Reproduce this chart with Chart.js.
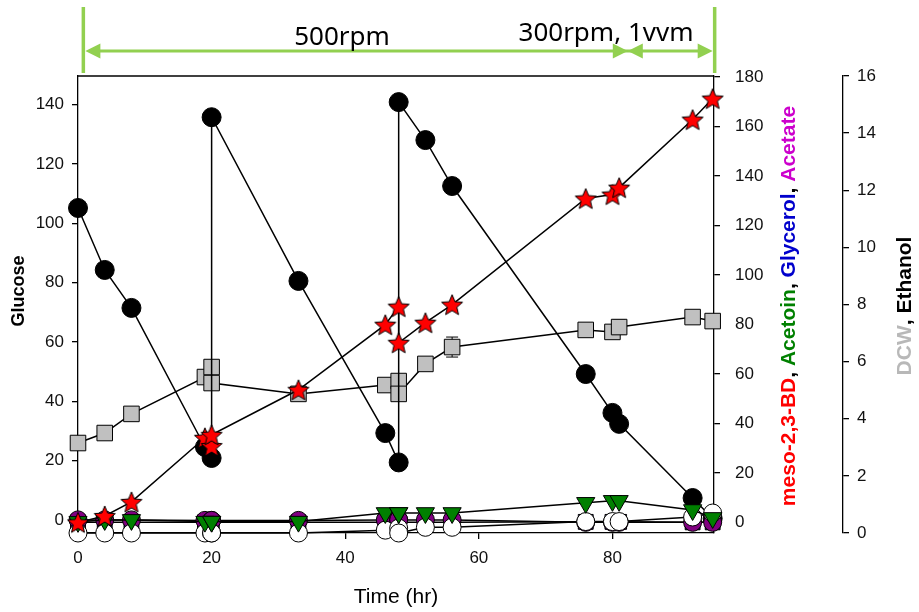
<!DOCTYPE html>
<html>
<head>
<meta charset="utf-8">
<script src="https://cdn.jsdelivr.net/npm/chart.js@4.4.1/dist/chart.umd.min.js"></script>
<style>
  html, body { margin: 0; padding: 0; background: #fff; }
  #wrap { width: 919px; height: 612px; }
</style>
</head>
<body>
<div id="wrap"><canvas id="chart" width="919" height="612"></canvas></div>
<script>
// Fed-batch fermentation time course.
// Sampling times (hr); the doubled entries at ~20 h and 48 h are the glucose feeds.
const hours = [0, 4, 8, 19, 20, 20, 33, 46, 48, 48, 52, 56, 76, 80, 81, 92, 95];

// left axis (g/L)
const glucose = [105.2, 84.3, 71.5, 24.6, 20.9, 135.8, 80.6, 29.3, 19.4, 140.9, 128.1, 112.6, 49.2, 36.1, 32.4, 7.4, 0.5];
const glucoseErr = [0, 0, 0, 0, 0, 0, 0, 0, 0, 0, 0, 2, 0, 0, 0, 0, 0];

// first right axis (g/L)
const mesoBD = [0, 2.6, 8.3, 34.2, 30.9, 35.4, 53.6, 79.9, 87.2, 72.6, 80.7, 88, 130.9, 132.5, 135.3, 162.8, 171.3];
const acetoin = [0.2, 1, 1, 0.3, 0.3, 0.3, 0.3, 3.8, 3.8, 3.8, 3.8, 3.8, 7.9, 8.7, 8.7, 5, 1.8];
const glycerol = [0, 0, 0, 0, 0, 0, 0, 0, 0, 0, 0, 0, 0.2, 0.2, 0.2, 0, 0];
const acetate = [1, 1, 1, 0.8, 0.8, 0.8, 0.8, 1, 1, 1, 1, 1, 0, 0, 0, 0, 0];

// second right axis (g/L)
const dcw = [3.15, 3.5, 4.17, 5.46, 5.81, 5.25, 4.87, 5.18, 5.32, 4.87, 5.92, 6.51, 7.11, 7.04, 7.21, 7.56, 7.42];
const dcwErr = [0, 0, 0, 0, 0, 0, 0, 0, 0, 0, 0, 0.35, 0, 0.12, 0.25, 0, 0];
const ethanol = [0, 0, 0, 0, 0, 0, 0, 0.1, 0.17, 0, 0.2, 0.2, 0.4, 0.4, 0.4, 0.56, 0.7];

// agitation / aeration phases (hr)
const phaseBounds = [0.8, 82.3, 95.3];
const phaseLabels = ['500rpm', '300rpm, 1vvm'];

const TICK_FONT = { family: 'Liberation Sans, Arial, sans-serif', size: 17 };
const TITLE_FONT = 'bold 21px "Liberation Sans", Arial, sans-serif';

function pts(ys) {
  return hours.map((h, i) => ({ x: h, y: ys[i] }));
}

// filled 5-point star marker
function makeStar(r, fill) {
  const size = Math.ceil(r * 2 + 4);
  const c = document.createElement('canvas');
  c.width = size; c.height = size;
  const g = c.getContext('2d');
  g.translate(size / 2, size / 2 + r * 0.1);
  g.beginPath();
  for (let i = 0; i < 10; i++) {
    const rr = i % 2 ? r * 0.45 : r;
    const a = -Math.PI / 2 + i * Math.PI / 5;
    g.lineTo(rr * Math.cos(a), rr * Math.sin(a));
  }
  g.closePath();
  g.fillStyle = fill;
  g.fill();
  g.lineWidth = 1;
  g.strokeStyle = '#000';
  g.stroke();
  return c;
}

function series(label, ys, axis, style, fill, radius, extra) {
  return Object.assign({
    label,
    data: pts(ys),
    yAxisID: axis,
    borderColor: '#000',
    borderWidth: 1.5,
    pointStyle: style,
    pointRadius: radius,
    pointBackgroundColor: fill,
    pointBorderColor: '#000',
    pointBorderWidth: 1,
    tension: 0,
    fill: false,
    clip: false
  }, extra || {});
}

function drawRotated(ctx, parts, cx, cy, font) {
  ctx.save();
  ctx.font = font;
  const total = parts.reduce((s, p) => s + ctx.measureText(p.text).width, 0);
  ctx.translate(cx, cy);
  ctx.rotate(-Math.PI / 2);
  ctx.textBaseline = 'middle';
  ctx.textAlign = 'left';
  let x = -total / 2;
  parts.forEach(p => {
    ctx.fillStyle = p.color;
    ctx.fillText(p.text, x, 0);
    x += ctx.measureText(p.text).width;
  });
  ctx.restore();
}

function arrowHead(ctx, tipX, y, dir) {
  ctx.beginPath();
  ctx.moveTo(tipX, y);
  ctx.lineTo(tipX - dir * 15, y - 7.5);
  ctx.lineTo(tipX - dir * 15, y + 7.5);
  ctx.closePath();
  ctx.fill();
}

const errorBars = {
  id: 'errorBars',
  beforeDatasetsDraw(chart) {
    const ctx = chart.ctx;
    ctx.save();
    ctx.strokeStyle = '#000';
    ctx.lineWidth = 1;
    chart.data.datasets.forEach(ds => {
      if (!ds.errors) return;
      const ys = chart.scales[ds.yAxisID];
      const xs = chart.scales.x;
      ds.data.forEach((p, i) => {
        const e = ds.errors[i];
        if (!e) return;
        const px = xs.getPixelForValue(p.x);
        const top = ys.getPixelForValue(p.y + e);
        const bot = ys.getPixelForValue(p.y - e);
        ctx.beginPath();
        ctx.moveTo(px, top); ctx.lineTo(px, bot);
        ctx.moveTo(px - 6, top); ctx.lineTo(px + 6, top);
        ctx.moveTo(px - 6, bot); ctx.lineTo(px + 6, bot);
        ctx.stroke();
      });
    });
    ctx.restore();
  }
};

const decorations = {
  id: 'decorations',
  afterDraw(chart) {
    const ctx = chart.ctx;
    const area = chart.chartArea;
    const xs = chart.scales.x;

    // top frame line
    ctx.save();
    ctx.strokeStyle = '#000';
    ctx.lineWidth = 1.3;
    ctx.beginPath();
    ctx.moveTo(area.left, area.top);
    ctx.lineTo(area.right, area.top);
    ctx.stroke();
    ctx.restore();

    // axis titles
    drawRotated(ctx, [{ text: 'Glucose', color: '#000' }], 19, 291, 'bold 18px "Liberation Sans", Arial, sans-serif');
    drawRotated(ctx, [
      { text: 'meso-2,3-BD', color: '#ff0000' },
      { text: ', ', color: '#000' },
      { text: 'Acetoin', color: '#008000' },
      { text: ', ', color: '#000' },
      { text: 'Glycerol', color: '#0000cc' },
      { text: ', ', color: '#000' },
      { text: 'Acetate', color: '#cc00cc' }
    ], 789, 306, TITLE_FONT);
    drawRotated(ctx, [
      { text: 'DCW', color: '#b8b8b8' },
      { text: ', Ethanol', color: '#000' }
    ], 905, 306, TITLE_FONT);

    ctx.save();
    ctx.fillStyle = '#000';
    ctx.font = '21px "Liberation Sans", Arial, sans-serif';
    ctx.textAlign = 'center';
    ctx.textBaseline = 'middle';
    ctx.fillText('Time (hr)', 396, 597);
    ctx.restore();

    // phase arrows above the plot
    const bx = phaseBounds.map(v => xs.getPixelForValue(v));
    const ay = 51;
    ctx.save();
    ctx.strokeStyle = '#92d050';
    ctx.fillStyle = '#92d050';
    ctx.lineWidth = 3.5;
    ctx.beginPath();
    ctx.moveTo(bx[0], 7); ctx.lineTo(bx[0], 73);
    ctx.moveTo(bx[2], 7); ctx.lineTo(bx[2], 73);
    ctx.stroke();
    ctx.lineWidth = 3;
    ctx.beginPath();
    ctx.moveTo(bx[0] + 10, ay); ctx.lineTo(bx[2] - 10, ay);
    ctx.stroke();
    arrowHead(ctx, bx[0] + 2, ay, -1);
    arrowHead(ctx, bx[1], ay, 1);
    arrowHead(ctx, bx[1], ay, -1);
    arrowHead(ctx, bx[2] - 2, ay, 1);

    ctx.fillStyle = '#000';
    ctx.font = '26px "Noto Sans", "Open Sans", sans-serif';
    ctx.textAlign = 'center';
    ctx.textBaseline = 'alphabetic';
    ctx.fillText(phaseLabels[0], 342, 45);
    ctx.fillText(phaseLabels[1], 606, 41);
    ctx.restore();
  }
};

function axisBase(extra) {
  return Object.assign({
    type: 'linear',
    grid: { drawOnChartArea: false, drawTicks: true, tickLength: 6, color: '#000', lineWidth: 1.3 },
    border: { display: true, color: '#000', width: 1.3 },
    title: { display: false }
  }, extra);
}

const star = makeStar(11, '#ff0000');

new Chart(document.getElementById('chart'), {
  type: 'line',
  data: {
    datasets: [
      series('meso-2,3-BD', mesoBD, 'y1', star, '#ff0000', 11),
      series('Acetoin', acetoin, 'y1', 'triangle', '#008000', 10.5, { pointRotation: 180 }),
      series('Ethanol', ethanol, 'y2', 'circle', '#ffffff', 9),
      series('Acetate', acetate, 'y1', 'circle', '#800080', 9),
      series('Glycerol', glycerol, 'y1', 'rect', '#00007f', 10.5),
      series('Glucose', glucose, 'y', 'circle', '#000000', 9.5, { errors: glucoseErr }),
      series('DCW', dcw, 'y2', 'rect', '#c0c0c0', 11, { errors: dcwErr })
    ]
  },
  options: {
    responsive: false,
    animation: false,
    layout: { padding: { top: 76, left: 0, right: 0, bottom: 0 } },
    plugins: { legend: { display: false }, tooltip: { enabled: false } },
    scales: {
      x: axisBase({
        position: 'bottom', min: 0, max: 95.2,
        ticks: { stepSize: 20, includeBounds: false, maxRotation: 0, color: '#111', font: TICK_FONT, padding: 9 },
        afterFit(s) { s.height = 79; }
      }),
      y: axisBase({
        position: 'left', min: -4.4, max: 149.7,
        ticks: { stepSize: 20, includeBounds: false, color: '#111', font: TICK_FONT, padding: 8 },
        afterFit(s) { s.width = 78; }
      }),
      y1: axisBase({
        position: 'right', min: -4.3, max: 180.4,
        ticks: { stepSize: 20, includeBounds: false, color: '#111', font: TICK_FONT, padding: 15 },
        afterFit(s) { s.width = 129; }
      }),
      y2: axisBase({
        position: 'right', min: 0, max: 16,
        ticks: { stepSize: 2, includeBounds: false, color: '#111', font: TICK_FONT, padding: 8 },
        afterFit(s) { s.width = 76; }
      })
    }
  },
  plugins: [errorBars, decorations]
});
</script>
</body>
</html>
